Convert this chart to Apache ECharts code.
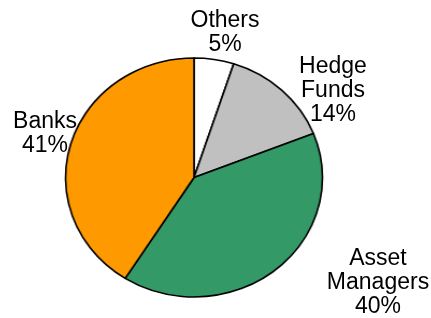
<!DOCTYPE html>
<html>
<head>
<meta charset="utf-8">
<script src="https://cdn.jsdelivr.net/npm/echarts@6/dist/echarts.min.js"></script>
<style>
  html, body { margin: 0; padding: 0; background: #fff; }
  .wrap { position: relative; width: 431px; height: 318px; overflow: hidden; }
  #pie, #labels { position: absolute; left: 0; top: 0; width: 431px; height: 318px; }
  /* the reference pie is slightly wider than tall */
  #pie { transform: scaleX(1.075); transform-origin: 194px 0; }
</style>
</head>
<body>
<div class="wrap">
  <div id="pie"></div>
  <div id="labels"></div>
</div>
<script>
const categories = ['Others', 'Hedge Funds', 'Asset Managers', 'Banks'];
const labelText = ['Others', 'Hedge\nFunds', 'Asset\nManagers', 'Banks'];
const shares = [5, 14, 40, 41];
const colors = ['#ffffff', '#c0c0c0', '#339966', '#ff9900'];

// where each label block sits (centre of the text block)
const labelPos = [[225, 33], [333, 91], [378, 283], [45, 134]];

const pieChart = echarts.init(document.getElementById('pie'));
pieChart.setOption({
  animation: false,
  backgroundColor: 'transparent',
  series: [{
    type: 'pie',
    center: [194, 177.5],
    radius: 119.5,
    startAngle: 90,
    clockwise: true,
    label: { show: false },
    labelLine: { show: false },
    emphasis: { disabled: true },
    itemStyle: { borderColor: '#000', borderWidth: 1.6 },
    data: categories.map((name, i) => ({
      name: name,
      value: shares[i],
      itemStyle: { color: colors[i] }
    }))
  }]
});

const total = shares.reduce((a, b) => a + b, 0);
const labelChart = echarts.init(document.getElementById('labels'));
labelChart.setOption({
  animation: false,
  backgroundColor: 'transparent',
  graphic: labelText.map((t, i) => ({
    type: 'text',
    x: labelPos[i][0],
    y: labelPos[i][1],
    style: {
      text: t + '\n' + Math.round(shares[i] / total * 100) + '%',
      fill: '#000',
      font: '23px "Liberation Sans", Arial, sans-serif',
      lineHeight: 24,
      align: 'center',
      verticalAlign: 'middle'
    }
  }))
});
</script>
</body>
</html>
